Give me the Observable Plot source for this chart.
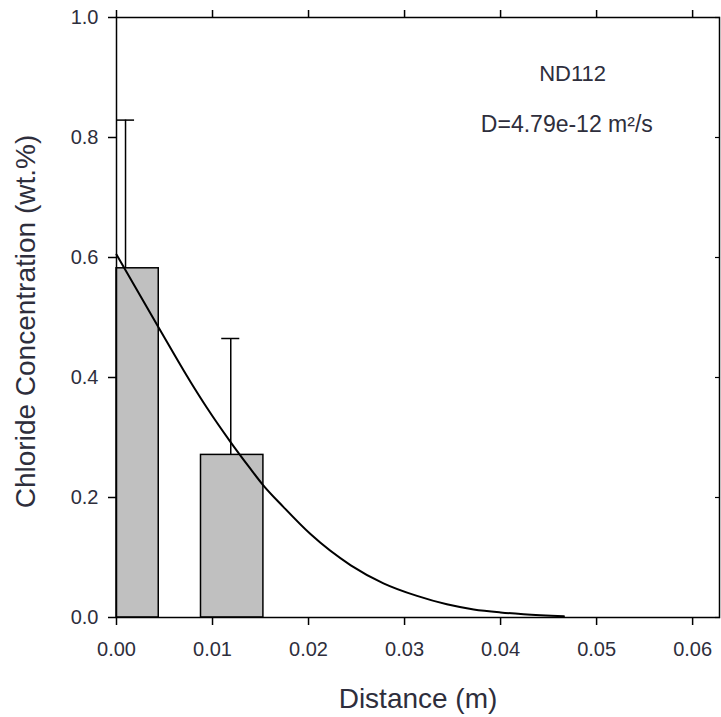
<!DOCTYPE html>
<html>
<head>
<meta charset="utf-8">
<script src="https://cdn.jsdelivr.net/npm/d3@7"></script>
<script src="https://cdn.jsdelivr.net/npm/@observablehq/plot@0.6"></script>
<style>
  html, body { margin: 0; padding: 0; background: #ffffff; }
  #chart { width: 721px; height: 717px; }
</style>
</head>
<body>
<div id="chart"></div>
<script>
// Measured bars (distance bins, m) and chloride concentration (wt.%)
const barX1 = [0.0, 0.0088];
const barX2 = [0.0044, 0.0153];
const barValue = [0.582, 0.271];
const errX = [0.00094, 0.0119];
const errHigh = [0.829, 0.465];

// Fitted diffusion curve
const curveX = [0.0, 0.0044, 0.0077, 0.0094, 0.0119, 0.0138, 0.0152, 0.0174, 0.0202, 0.0244, 0.0278, 0.0313, 0.0344, 0.0372, 0.0400, 0.0424, 0.0466];
const curveY = [0.605, 0.483, 0.393, 0.350, 0.292, 0.251, 0.222, 0.184, 0.139, 0.087, 0.057, 0.036, 0.022, 0.0135, 0.0085, 0.0055, 0.002];

const xTicks = [0, 0.01, 0.02, 0.03, 0.04, 0.05, 0.06];
const yTicks = [0, 0.2, 0.4, 0.6, 0.8, 1.0];

const sampleName = "ND112";
const diffusionText = "D=4.79e-12 m²/s";
const xLabel = "Distance (m)";
const yLabel = "Chloride Concentration (wt.%)";

const bars = barX1.map((x1, i) => ({x1, x2: barX2[i], value: barValue[i], ex: errX[i], hi: errHigh[i]}));
const curve = curveX.map((x, i) => ({x, y: curveY[i]}));
const CAP = 0.00094;
const textColor = "#2e2e3c";

const chart = Plot.plot({
  width: 721,
  height: 717,
  marginLeft: 116,
  marginRight: 2,
  marginTop: 17,
  marginBottom: 100,
  style: {fontFamily: "'Liberation Sans', Arial, sans-serif", background: "#ffffff", color: textColor},
  x: {domain: [0, 0.0628]},
  y: {domain: [0, 1]},
  marks: [
    Plot.rectY(bars, {x1: "x1", x2: "x2", y1: 0, y2: "value", fill: "#c0c0c0", stroke: "black", strokeWidth: 1.5}),
    Plot.ruleX(bars, {x: "ex", y1: "value", y2: "hi", stroke: "black", strokeWidth: 1.5}),
    Plot.ruleY(bars, {y: "hi", x1: d => d.ex - CAP, x2: d => d.ex + CAP, stroke: "black", strokeWidth: 1.5}),
    Plot.line(curve, {x: "x", y: "y", stroke: "black", strokeWidth: 2, curve: "monotone-x"}),
    Plot.frame({stroke: "black", strokeWidth: 1.5}),
    Plot.axisX({anchor: "bottom", ticks: xTicks, tickSize: 8, tickPadding: 16, tickFormat: d3.format(".2f"), fontSize: 20, stroke: "black", strokeWidth: 1.5, fill: textColor, label: null}),
    Plot.axisX({anchor: "top", ticks: xTicks, tickSize: 8, tickFormat: () => "", stroke: "black", strokeWidth: 1.5, label: null}),
    Plot.axisY({anchor: "left", ticks: yTicks, tickSize: 8, tickPadding: 10, tickFormat: d3.format(".1f"), fontSize: 20, stroke: "black", strokeWidth: 1.5, fill: textColor, label: null}),
    Plot.axisY({anchor: "right", ticks: yTicks, tickSize: 5, dx: -5, tickFormat: () => "", stroke: "black", strokeWidth: 1.2, label: null}),
    Plot.text([xLabel], {frameAnchor: "bottom", dy: 82, textAnchor: "middle", lineAnchor: "middle", fontSize: 28, fill: textColor}),
    Plot.text([yLabel], {frameAnchor: "left", dx: -90, dy: 4, rotate: -90, textAnchor: "middle", lineAnchor: "middle", fontSize: 28, fill: textColor}),
    Plot.text([sampleName], {x: 0.0475, y: 0.906, lineAnchor: "middle", fontSize: 22, fill: textColor}),
    Plot.text([diffusionText], {x: 0.0469, y: 0.822, lineAnchor: "middle", fontSize: 23, fill: textColor})
  ]
});
document.getElementById("chart").appendChild(chart);
</script>
</body>
</html>
